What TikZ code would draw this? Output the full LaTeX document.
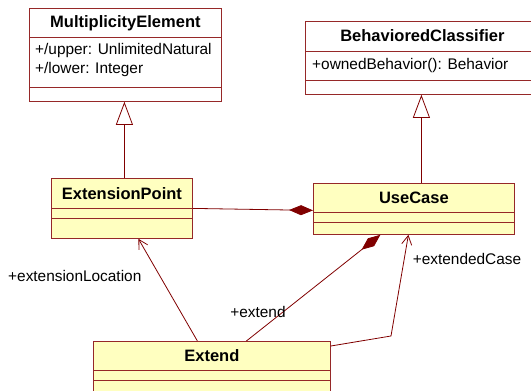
\documentclass[tikz,border=0pt]{standalone}
\usepackage{fontspec}
\setmainfont{Liberation Sans}
\usetikzlibrary{arrows.meta}

\definecolor{umlborder}{RGB}{150,40,40}
\definecolor{umlline}{RGB}{128,0,0}
\definecolor{umlfill}{RGB}{255,255,192}

\tikzset{
  cls/.style={draw=umlborder, line width=0.8pt, fill=white, inner sep=0pt, anchor=north west},
  ycls/.style={cls, fill=umlfill},
  sep/.style={draw=umlborder, line width=0.8pt},
  title/.style={font=\fontsize{16.5}{20}\selectfont\bfseries, inner sep=1pt},
  attr/.style={font=\fontsize{15.4}{18}\selectfont, inner sep=1pt, anchor=west},
  role/.style={font=\fontsize{15.4}{18}\selectfont, inner sep=1pt},
  conn/.style={draw=umlline, line width=0.8pt},
  gen/.style={conn, -{Triangle[open, length=23pt, width=17pt, fill=white]}},
  comp/.style={conn, {Diamond[length=24pt, width=10pt]}-},
  nav/.style={conn, -{Straight Barb[length=9pt, width=10pt]}}
}

\begin{document}
\begin{tikzpicture}[x=1pt, y=-1pt]
\useasboundingbox (0,0) rectangle (531,391);
\clip (0,0) rectangle (531,391);

% superclasses
\node[cls, minimum width=192pt, minimum height=93pt] (me) at (29,8) {};
\node[title] (meTitle) at ([yshift=-15pt]me.north) {MultiplicityElement};
\draw[sep] ([yshift=-29pt]me.north west) -- ([yshift=-29pt]me.north east);
\draw[sep] ([yshift=-79pt]me.north west) -- ([yshift=-79pt]me.north east);
\node[attr] (meUpper) at ([xshift=5pt,yshift=-43pt]me.north west) {+/upper: UnlimitedNatural};
\node[attr] (meLower) at ([xshift=5pt,yshift=-62pt]me.north west) {+/lower: Integer};

\node[cls, minimum width=226pt, minimum height=73pt] (bc) at (305,21) {};
\node[title] (bcTitle) at ([xshift=4pt,yshift=-15pt]bc.north) {BehavioredClassifier};
\draw[sep] ([yshift=-30pt]bc.north west) -- ([yshift=-30pt]bc.north east);
\draw[sep] ([yshift=-59pt]bc.north west) -- ([yshift=-59pt]bc.north east);
\node[attr] (bcOwned) at ([xshift=6pt,yshift=-45pt]bc.north west) {+ownedBehavior(): Behavior};

% metaclasses
\node[ycls, minimum width=141pt, minimum height=60pt] (ep) at (51,178) {};
\node[title] (epTitle) at ([yshift=-16pt]ep.north) {ExtensionPoint};
\draw[sep] ([yshift=-30pt]ep.north west) -- ([yshift=-30pt]ep.north east);
\draw[sep] ([yshift=-40pt]ep.north west) -- ([yshift=-40pt]ep.north east);

\node[ycls, minimum width=201pt, minimum height=51pt] (uc) at (313,183) {};
\node[title] (ucTitle) at ([yshift=-15pt]uc.north) {UseCase};
\draw[sep] ([yshift=-29pt]uc.north west) -- ([yshift=-29pt]uc.north east);
\draw[sep] ([yshift=-39pt]uc.north west) -- ([yshift=-39pt]uc.north east);

\node[ycls, minimum width=237pt, minimum height=52pt] (ex) at (93,341) {};
\node[title] (exTitle) at ([yshift=-15pt]ex.north) {Extend};
\draw[sep] ([yshift=-29pt]ex.north west) -- ([yshift=-29pt]ex.north east);
\draw[sep] ([yshift=-39pt]ex.north west) -- ([yshift=-39pt]ex.north east);

% generalizations
\draw[gen] ([xshift=2.5pt]ep.north) -- ([xshift=2.5pt]ep.north |- me.south);
\draw[gen] ([xshift=7.5pt]uc.north) -- ([xshift=7.5pt]uc.north |- bc.south);

% associations
\draw[comp] ([yshift=-1.5pt]uc.west) -- (ep.east);
\draw[comp] ([xshift=-33.5pt]uc.south) -- ([xshift=34.5pt]ex.north);
\draw[nav] ([xshift=-14.5pt]ex.north) -- ([xshift=16.5pt]ep.south);
\coordinate (bend) at (391,336);
\draw[nav] ([yshift=-5pt]ex.north east) -- (bend) -- ([xshift=-5.5pt]uc.south);

% role names
\node[role, anchor=west] (locLbl) at (7,276) {+extensionLocation};
\node[role] (extLbl) at (258,312) {+extend};
\node[role] (caseLbl) at (467,259) {+extendedCase};
\end{tikzpicture}
\end{document}
